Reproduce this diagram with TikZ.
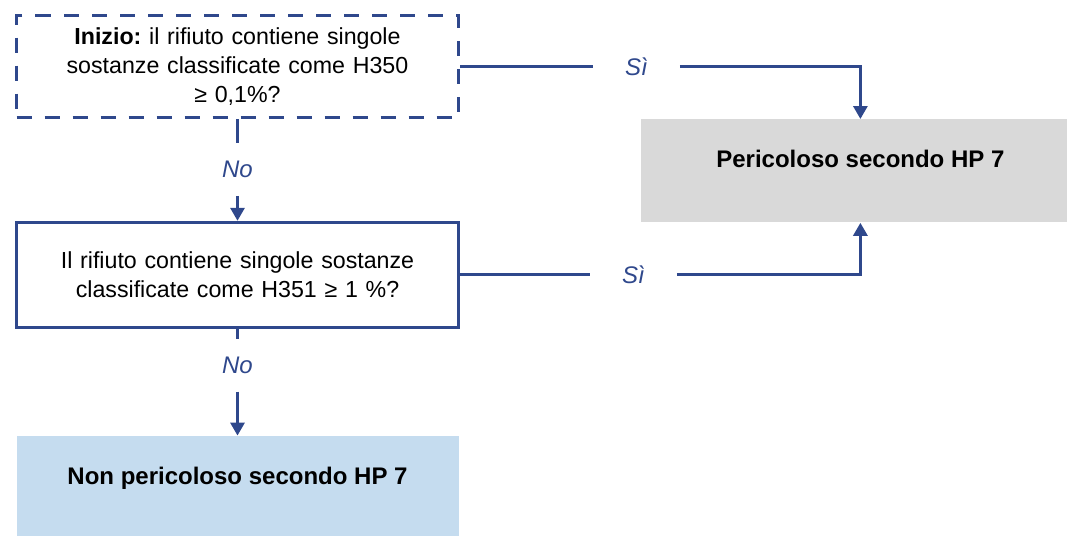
\documentclass[tikz,border=0pt]{standalone}
\usepackage{fontspec}
\setmainfont{Liberation Sans}
\usetikzlibrary{arrows.meta, calc, positioning}
\definecolor{flowblue}{RGB}{47,72,140}
\definecolor{dangergray}{RGB}{217,217,217}
\definecolor{safeblue}{RGB}{197,220,239}
\tikzstyle{question} = [rectangle, line width=1.5pt, draw=flowblue, minimum width=221pt, text width=214pt, align=center, font=\fontsize{11.6}{14.5}\selectfont]
\tikzstyle{result} = [rectangle, minimum width=219pt, inner ysep=0pt, text height=24pt, text depth=27.5pt, align=center, font=\fontsize{12}{14}\selectfont\bfseries]
\tikzstyle{answer} = [text=flowblue, font=\fontsize{12}{14}\selectfont\itshape, inner sep=0pt]
\tikzstyle{wire} = [line width=1.5pt, draw=flowblue]
\tikzstyle{arrow} = [wire, ->, >={Triangle[width=7pt,length=6.5pt]}]

\begin{document}
\begin{tikzpicture}
		\useasboundingbox (0,0) rectangle (533.5pt,-268pt);
		\node (start) [question, dash pattern=on 7.5pt off 6.5pt, minimum height=51pt, anchor=north west] at (7.5pt,-7pt) {\textbf{Inizio:}\ il rifiuto contiene singole\\ sostanze classificate come H350\\ ≥ 0,1\%?};
		\node (noA) [answer, minimum height=26pt, below = 12pt of start] {No};
		\node (check) [question, minimum height=52.5pt, below = 12.5pt of noA] {Il rifiuto contiene singole sostanze\\ classificate come H351 ≥ 1 \%?};
		\node (noB) [answer, minimum height=26pt, below = 5pt of check] {No};
		\node (safe) [result, fill=safeblue, minimum width=221pt, text depth=30pt, below = 22pt of noB] {Non pericoloso secondo HP 7};
		\node (danger) [result, fill=dangergray, below right = 52.5pt and 90.5pt of start.north east] {Pericoloso secondo HP 7};
		\node (siA) [answer, minimum width=43pt, right = 66.5pt of start] {Sì};
		\node (siB) [answer, minimum width=43pt, right = 65pt of check] {Sì};
		
		\draw [wire] (start) -- (noA);
		\draw [arrow] (noA) -- (check);
		\draw [wire] (check) -- (noB);
		\draw [arrow] (noB) -- (safe);
		\draw [wire] (start) -- (siA);
		\draw [arrow] (siA) -| (danger);
		\draw [wire] (check) -- (siB);
		\draw [arrow] (siB) -| (danger);
\end{tikzpicture}
\end{document}
